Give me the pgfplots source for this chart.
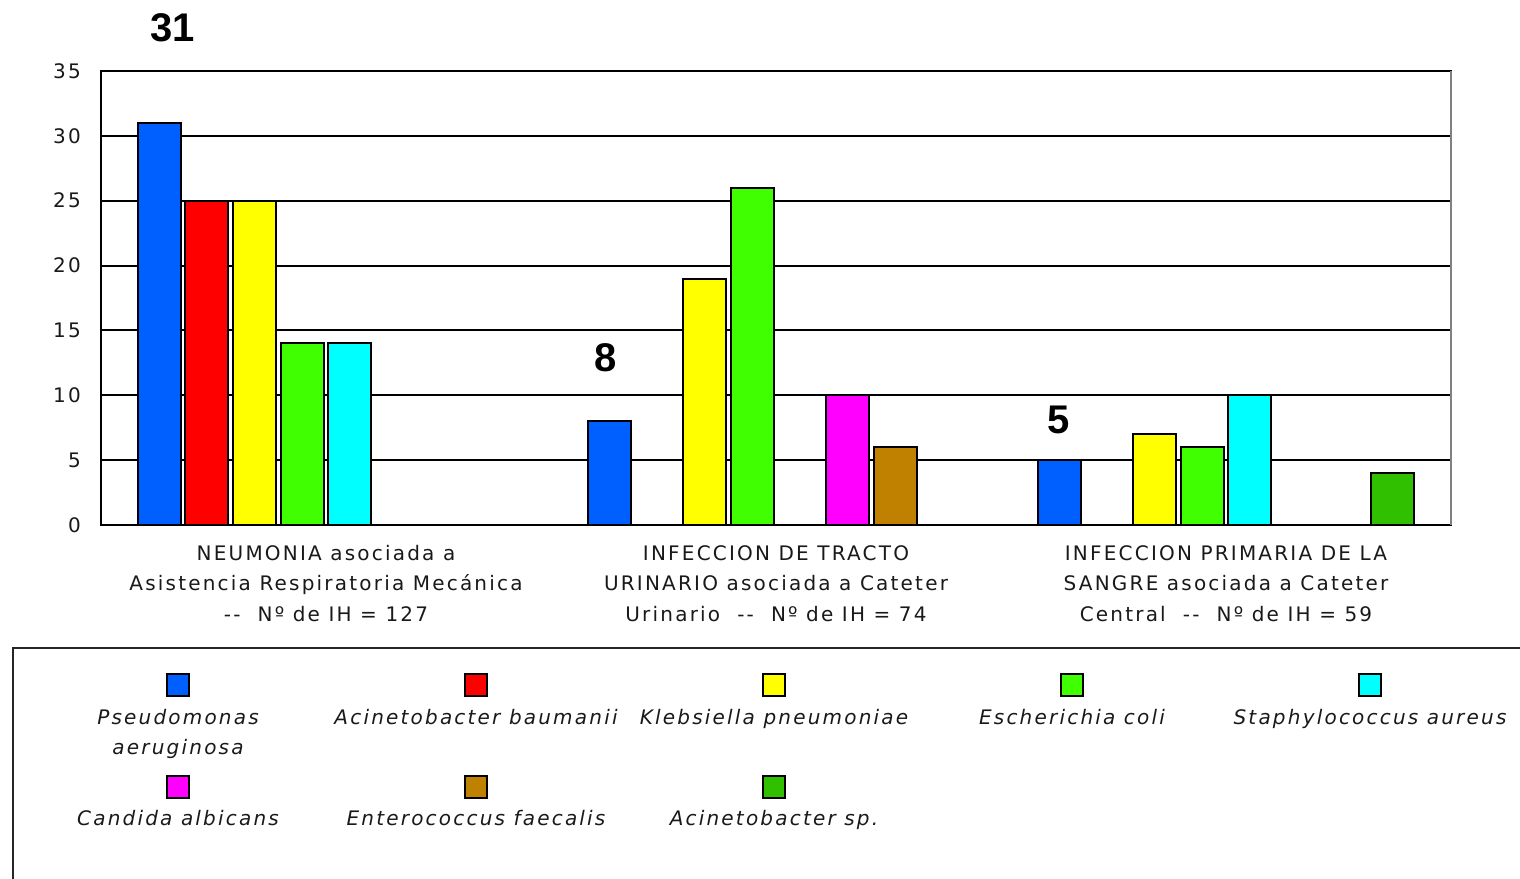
\documentclass[border=0pt]{standalone}
\usepackage{fontspec}
\setmainfont{DejaVu Sans}
\newfontfamily\lbl{DejaVu Sans}[LetterSpace=11]
\newfontfamily\numfont{Liberation Sans}
\usepackage{pgfplots}
\pgfplotsset{compat=1.18}
\usetikzlibrary{calc}
\definecolor{cPs}{RGB}{0,96,255}
\definecolor{cAb}{RGB}{255,0,0}
\definecolor{cKp}{RGB}{255,255,0}
\definecolor{cEc}{RGB}{64,255,0}
\definecolor{cSa}{RGB}{0,255,255}
\definecolor{cCa}{RGB}{255,0,255}
\definecolor{cEf}{RGB}{192,128,0}
\definecolor{cAs}{RGB}{48,192,0}
\newcommand{\sq}[1]{{\setlength{\fboxsep}{0pt}\setlength{\fboxrule}{2pt}\fcolorbox{black}{#1}{\rule{0pt}{20pt}\rule{20pt}{0pt}}}}
\newcommand{\legent}[2]{\parbox[b][100pt][t]{298pt}{\centering\lbl\fontsize{20}{30}\selectfont\color{black!90}\sq{#1}\\[-1pt]\itshape #2}}
\pgfplotsset{bs/.style={ybar, bar width=43pt, draw=black, line width=2pt, legend image code/.code={}}}
\begin{document}
\begin{tikzpicture}[x=1pt,y=1pt]
\begin{axis}[
  scale only axis, width=1350pt, height=454pt,
  xmin=-0.5, xmax=2.5, ymin=0, ymax=35,
  xtick={0,1,2},
  xticklabels={{NEUMONIA asociada a\\Asistencia Respiratoria Mecánica\\-{}-\ \ Nº de IH = 127},
               {INFECCION DE TRACTO\\URINARIO asociada a Cateter\\Urinario \ -{}- \ Nº de IH = 74},
               {INFECCION PRIMARIA DE LA\\SANGRE asociada a Cateter\\Central \ -{}- \ Nº de IH = 59}},
  ytick={0,5,...,35},
  major tick length=0pt,
  ymajorgrids, grid style={black, line width=2pt},
  axis line style={black, line width=2pt},
  ticklabel style={font=\lbl\fontsize{20}{30.5}\selectfont, text=black!90},
  /pgf/number format/assume math mode=true,
  yticklabel style={inner sep=0pt, xshift=-20pt},
  xticklabel style={inner sep=0pt, yshift=-20pt, align=center},
  clip=false,
  legend columns=5,
  legend style={at={(-0.05333,-0.3260)}, anchor=north west, draw=none, fill=none,
    inner sep=0pt, outer sep=0pt, column sep=0pt, row sep=0pt, nodes={inner sep=0pt}},
  legend image code/.code={},
]
\addplot[bs, bar shift=-166.6pt, fill=cPs] coordinates {(0,31) (1,8) (2,5)};
\addlegendentry{\legent{cPs}{Pseudomonas\\aeruginosa}}
\addplot[bs, bar shift=-119pt, fill=cAb] coordinates {(0,25)};
\addlegendentry{\legent{cAb}{Acinetobacter baumanii}}
\addplot[bs, bar shift=-71.4pt, fill=cKp] coordinates {(0,25) (1,19) (2,7)};
\addlegendentry{\legent{cKp}{Klebsiella pneumoniae}}
\addplot[bs, bar shift=-23.8pt, fill=cEc] coordinates {(0,14) (1,26) (2,6)};
\addlegendentry{\legent{cEc}{Escherichia coli}}
\addplot[bs, bar shift=23.8pt, fill=cSa] coordinates {(0,14) (2,10)};
\addlegendentry{\legent{cSa}{Staphylococcus aureus}}
\addplot[bs, bar shift=71.4pt, fill=cCa] coordinates {(1,10)};
\addlegendentry{\legent{cCa}{Candida albicans}}
\addplot[bs, bar shift=119pt, fill=cEf] coordinates {(1,6)};
\addlegendentry{\legent{cEf}{Enterococcus faecalis}}
\addplot[bs, bar shift=166.6pt, fill=cAs] coordinates {(2,4)};
\addlegendentry{\legent{cAs}{Acinetobacter sp.}}
\draw[gray, line width=2pt] (rel axis cs:1,0) -- (rel axis cs:1,1);
\node[font=\numfont\bfseries\fontsize{40}{40}\selectfont] at (axis cs:-0.34,38.3) {31};
\node[font=\numfont\bfseries\fontsize{40}{40}\selectfont] at (axis cs:0.622,12.87) {8};
\node[font=\numfont\bfseries\fontsize{40}{40}\selectfont] at (axis cs:1.629,8.09) {5};
\coordinate (A) at (rel axis cs:0,0);
\end{axis}
\draw[line width=2pt, black!85] ($(A)+(-88,-420)$) -- ($(A)+(-88,-123)$) -- ($(A)+(1500,-123)$);
\pgfresetboundingbox
\path[use as bounding box] ($(A)+(-101,-353)$) rectangle ($(A)+(1419,525)$);
\end{tikzpicture}
\end{document}
